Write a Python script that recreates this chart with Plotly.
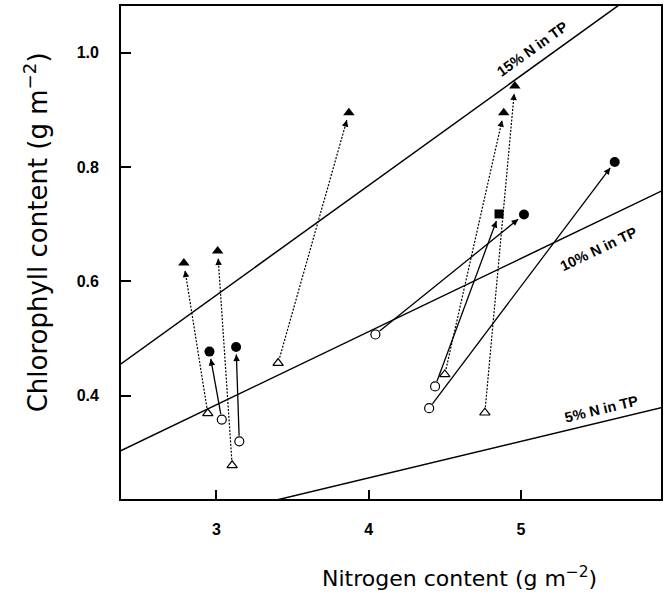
import math
import plotly.graph_objects as go

# ---- data ----
# start (open symbol) -> end (filled symbol)
start_x = [2.943, 3.103, 3.035, 3.150, 3.405, 4.044, 4.436, 4.397, 4.500, 4.763]
start_y = [0.369, 0.278, 0.358, 0.320, 0.457, 0.507, 0.416, 0.378, 0.437, 0.370]
end_x = [2.786, 3.008, 2.954, 3.129, 3.870, 5.020, 4.856, 5.616, 4.887, 4.960]
end_y = [0.632, 0.653, 0.477, 0.485, 0.895, 0.717, 0.718, 0.809, 0.895, 0.942]
start_sym = ["triangle-up-open", "triangle-up-open", "circle-open", "circle-open", "triangle-up-open",
             "circle-open", "circle-open", "circle-open", "triangle-up-open", "triangle-up-open"]
end_sym = ["triangle-up", "triangle-up", "circle", "circle", "triangle-up",
           "circle", "square", "circle", "triangle-up", "triangle-up"]
line_dash = ["dot", "dot", "solid", "solid", "dot", "solid", "solid", "solid", "dot", "dot"]

# reference lines: chlorophyll = slope_per_pct * pct * N
line_pct = [5, 10, 15]
slope_per_pct = 0.0128
line_labels = ["5% N in TP", "10% N in TP", "15% N in TP"]
label_x = [5.53, 5.51, 5.075]
label_y = [0.376, 0.657, 1.006]

x_range = [2.373, 5.92]
y_range = [0.219, 1.082]
x_ticks = [3, 4, 5]
y_ticks = [0.4, 0.6, 0.8, 1.0]

x_title = "Nitrogen content (g m<sup>−2</sup>)"
y_title = "Chlorophyll content (g m<sup>−2</sup>)"

W, H = 665, 593
ML, MR, MT, MB = 121, 2, 6, 94
PW, PH = W - ML - MR, H - MT - MB
sx = PW / (x_range[1] - x_range[0])
sy = PH / (y_range[1] - y_range[0])

fig = go.Figure()

# %N lines
for p in line_pct:
    k = slope_per_pct * p
    fig.add_trace(go.Scatter(x=[0, 7], y=[0, 7 * k], mode="lines",
                             line=dict(color="black", width=1.5), showlegend=False,
                             hoverinfo="skip"))

annotations = []
for lab, lx, ly, p in zip(line_labels, label_x, label_y, line_pct):
    ang = math.degrees(math.atan(slope_per_pct * p * sy / sx))
    annotations.append(dict(x=lx, y=ly, xref="x", yref="y", text=lab, showarrow=False,
                            textangle=-ang, font=dict(family="Liberation Sans", size=14.5,
                                                      color="black", weight="bold")))

# arrows
r0, r1, head = 5.5, 7.5, 8.0
for i in range(len(start_x)):
    x0, y0, x1, y1 = start_x[i], start_y[i], end_x[i], end_y[i]
    dx = (x1 - x0) * sx
    dy = (y1 - y0) * sy
    L = math.hypot(dx, dy)
    ux, uy = dx / L, dy / L
    sxp, syp = x0 + ux * r0 / sx, y0 + uy * r0 / sy
    exp_, eyp = x1 - ux * r1 / sx, y1 - uy * r1 / sy
    fig.add_trace(go.Scatter(x=[sxp, exp_], y=[syp, eyp], mode="lines",
                             line=dict(color="black", width=1.3 if line_dash[i] == "solid" else 1.2,
                                       dash="solid" if line_dash[i] == "solid" else "2px,1.5px"),
                             showlegend=False, hoverinfo="skip"))
    annotations.append(dict(x=exp_, y=eyp, ax=exp_ - ux * head / sx, ay=eyp - uy * head / sy,
                            xref="x", yref="y", axref="x", ayref="y", text="",
                            showarrow=True, arrowhead=2, arrowsize=1.3, arrowwidth=1,
                            arrowcolor="black"))

# markers
for i in range(len(start_x)):
    fig.add_trace(go.Scatter(x=[start_x[i]], y=[start_y[i]], mode="markers",
                             marker=dict(symbol=start_sym[i], size=9, color="black",
                                         line=dict(width=1.2, color="black")),
                             showlegend=False))
    fig.add_trace(go.Scatter(x=[end_x[i]], y=[end_y[i]], mode="markers",
                             marker=dict(symbol=end_sym[i], size=10 if end_sym[i] != "square" else 9,
                                         color="black", line=dict(width=0)),
                             showlegend=False))

x_title_font = dict(family="DejaVu Sans", size=22, color="black")
y_title_font = dict(family="DejaVu Sans", size=26, color="black")
tick_font = dict(family="Liberation Sans", size=16, color="black", weight="bold")

# axis titles (placed as paper annotations to match the reference positions)
annotations.append(dict(x=(461 - ML) / PW, y=(499 - 577) / PH, xref="paper", yref="paper",
                        text=x_title, showarrow=False, font=x_title_font,
                        xanchor="center", yanchor="middle"))
annotations.append(dict(x=(36 - ML) / PW, y=(499 - 232) / PH, xref="paper", yref="paper",
                        text=y_title, showarrow=False, font=y_title_font, textangle=-90,
                        xanchor="center", yanchor="middle"))

fig.update_layout(
    width=W, height=H,
    margin=dict(l=ML, r=MR, t=MT, b=MB),
    paper_bgcolor="white", plot_bgcolor="white",
    annotations=annotations,
    xaxis=dict(range=x_range, tickvals=x_ticks, ticktext=[str(v) for v in x_ticks],
               ticks="inside", ticklen=9, tickwidth=1.5, tickcolor="black",
               showline=True, linecolor="black", linewidth=1.8, mirror=True,
               showgrid=False, zeroline=False, tickfont=tick_font, ticklabelstandoff=15),
    yaxis=dict(range=y_range, tickvals=y_ticks, ticktext=["0.4", "0.6", "0.8", "1.0"],
               ticks="inside", ticklen=10, tickwidth=1.5, tickcolor="black",
               showline=True, linecolor="black", linewidth=1.8, mirror=True,
               showgrid=False, zeroline=False, tickfont=tick_font, ticklabelstandoff=17),
)

fig.write_html("out.html")
